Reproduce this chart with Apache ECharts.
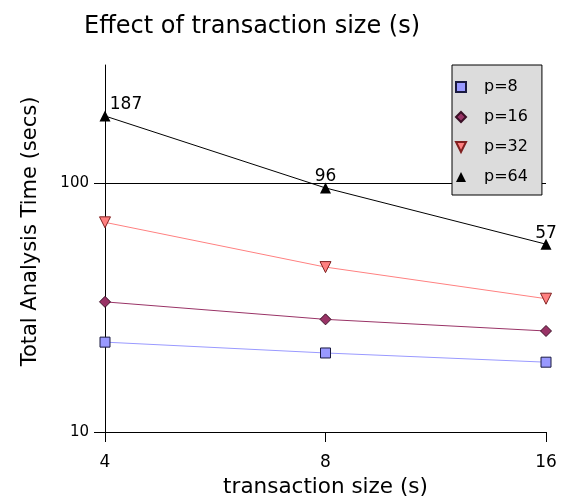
<!DOCTYPE html>
<html>
<head>
<meta charset="utf-8">
<script src="https://cdn.jsdelivr.net/npm/echarts@6/dist/echarts.min.js"></script>
<style>
  html, body { margin: 0; padding: 0; background: #fff; }
  #chart { width: 561px; height: 501px; }
</style>
</head>
<body>
<div id="chart"></div>
<script>
// Transaction sizes on the x axis
const sizes = ['4', '8', '16'];
// Total analysis time (secs) per processor count
const p8 = [23.0, 20.8, 19.1];
const p16 = [33.4, 28.4, 25.5];
const p32 = [69.8, 46.1, 34.4];
const p64 = [187, 96, 57];

const FONT = 'DejaVu Sans';
const downTriangle = 'path://M0,0 L10,0 L5,10 Z';

// Value labels for the p=64 series, nudged off the markers
const p64Offsets = [[21, 6], [0, 6], [0, 6]];
const p64Data = p64.map((v, i) => ({
  value: v,
  label: { show: true, position: 'top', offset: p64Offsets[i], formatter: String(v) }
}));

const chart = echarts.init(document.getElementById('chart'), null, { renderer: 'canvas' });
chart.setOption({
  animation: false,
  textStyle: { fontFamily: FONT },
  title: {
    text: 'Effect of transaction size (s)',
    left: 79, top: 10,
    textStyle: { fontFamily: FONT, fontSize: 24, fontWeight: 'normal', color: '#000' }
  },
  grid: { left: 105, right: 15, top: 65, bottom: 69, containLabel: false, outerBoundsMode: 'none' },
  legend: {
    orient: 'vertical',
    left: 452, top: 65,
    padding: [14, 14, 10, 3],
    itemGap: 14,
    itemWidth: 10, itemHeight: 10,
    backgroundColor: '#dcdcdc',
    borderColor: '#000', borderWidth: 1, borderRadius: 0,
    textStyle: { fontFamily: FONT, fontSize: 16, color: '#000', padding: [0, 0, 0, 13] },
    data: [
      { name: 'p=8', icon: 'rect' },
      { name: 'p=16', icon: 'diamond' },
      { name: 'p=32', icon: downTriangle },
      { name: 'p=64', icon: 'triangle' }
    ]
  },
  xAxis: {
    type: 'category',
    data: sizes,
    boundaryGap: false,
    name: 'transaction size (s)',
    nameLocation: 'middle',
    nameGap: 44,
    nameTextStyle: { fontFamily: FONT, fontSize: 21.5, color: '#000' },
    axisLine: { lineStyle: { color: '#000', width: 1 } },
    axisTick: { show: true, length: 10, lineStyle: { color: '#000' } },
    axisLabel: { fontFamily: FONT, fontSize: 17, color: '#000', margin: 22 },
    splitLine: { show: false }
  },
  yAxis: {
    type: 'log',
    logBase: 10,
    min: 10, max: 300,
    name: 'Total Analysis Time (secs)',
    nameLocation: 'middle',
    nameGap: 64,
    nameTextStyle: { fontFamily: FONT, fontSize: 21, color: '#000', padding: [0, 0, 0, 34] },
    axisLine: { show: true, lineStyle: { color: '#000', width: 1 } },
    axisTick: { show: true, length: 11, lineStyle: { color: '#000' } },
    axisLabel: { fontFamily: FONT, fontSize: 15, color: '#000', margin: 16, showMaxLabel: false },
    // only the 100 gridline is drawn; the 10 line is the x axis itself
    splitLine: { show: true, lineStyle: { color: ['rgba(0,0,0,0)', '#000', 'rgba(0,0,0,0)'], width: 1 } },
    minorTick: { show: false }
  },
  series: [
    {
      name: 'p=8', type: 'line', data: p8,
      symbol: 'rect', symbolSize: 10,
      lineStyle: { color: '#9999ff', width: 1 },
      itemStyle: { color: '#9999ff', borderColor: '#1a1a40', borderWidth: 1 }
    },
    {
      name: 'p=16', type: 'line', data: p16,
      symbol: 'diamond', symbolSize: 11,
      lineStyle: { color: '#993366', width: 1 },
      itemStyle: { color: '#993366', borderColor: '#3a1026', borderWidth: 1 }
    },
    {
      name: 'p=32', type: 'line', data: p32,
      symbol: downTriangle, symbolSize: 11,
      lineStyle: { color: '#ff8080', width: 1 },
      itemStyle: { color: '#ff8080', borderColor: '#802020', borderWidth: 1 }
    },
    {
      name: 'p=64', type: 'line', data: p64Data,
      symbol: 'triangle', symbolSize: 11,
      lineStyle: { color: '#000', width: 1 },
      itemStyle: { color: '#000' },
      label: { fontFamily: FONT, fontSize: 17, color: '#000', distance: 3 }
    }
  ]
});
</script>
</body>
</html>
